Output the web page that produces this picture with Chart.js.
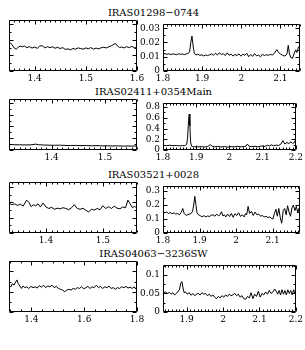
<!DOCTYPE html>
<html>
<head>
<meta charset="utf-8">
<script src="https://cdn.jsdelivr.net/npm/chart.js@4.4.0/dist/chart.umd.min.js"></script>
<style>
body { margin: 0; overflow: hidden; background: #fff; }
#fig { position: relative; width: 305px; height: 350px; }
#fig canvas { position: absolute; }
.title { position: absolute; left: 1px; width: 305px; text-align: center; font: 10px "DejaVu Serif"; line-height: 12px; color: #000; }
</style>
</head>
<body>
<div id="fig"></div>
<script>
// object names, one per row
const names = ['IRAS01298\u22120744', 'IRAS02411+0354Main', 'IRAS03521+0028', 'IRAS04063\u22123236SW'];

// row 1
const lam1a = [1.350,1.353,1.356,1.360,1.364,1.368,1.372,1.376,1.380,1.385,
  1.390,1.395,1.400,1.405,1.410,1.415,1.420,1.425,1.430,1.435,
  1.440,1.445,1.450,1.455,1.460,1.465,1.470,1.475,1.480,1.485,
  1.490,1.495,1.500,1.505,1.510,1.515,1.520,1.525,1.530,1.535,
  1.540,1.545,1.550,1.555,1.558,1.562,1.566,1.570,1.575,1.580,
  1.585,1.590,1.595,1.600];
const flux1a = [0.0172,0.0180,0.0168,0.0148,0.0140,0.0152,0.0160,0.0155,0.0160,0.0150,
  0.0156,0.0147,0.0154,0.0145,0.0160,0.0162,0.0148,0.0156,0.0150,0.0155,
  0.0146,0.0152,0.0144,0.0150,0.0138,0.0142,0.0136,0.0144,0.0140,0.0148,
  0.0144,0.0140,0.0148,0.0143,0.0150,0.0140,0.0147,0.0142,0.0149,0.0152,
  0.0148,0.0155,0.0162,0.0172,0.0176,0.0160,0.0150,0.0154,0.0148,0.0156,
  0.0150,0.0158,0.0148,0.0152];
const lam1b = [1.800,1.805,1.810,1.815,1.820,1.825,1.830,1.835,1.840,1.845,
  1.850,1.855,1.860,1.865,1.868,1.871,1.874,1.877,1.880,1.884,
  1.889,1.894,1.899,1.904,1.909,1.914,1.919,1.924,1.929,1.934,
  1.939,1.944,1.949,1.954,1.959,1.964,1.969,1.974,1.979,1.984,
  1.989,1.994,1.999,2.004,2.009,2.014,2.019,2.024,2.029,2.034,
  2.039,2.044,2.049,2.054,2.059,2.064,2.069,2.074,2.079,2.084,
  2.088,2.091,2.095,2.100,2.105,2.110,2.114,2.117,2.120,2.123,
  2.127,2.131,2.135,2.139,2.142,2.146,2.150];
const flux1b = [0.0118,0.0122,0.0117,0.0121,0.0115,0.0120,0.0118,0.0114,0.0121,0.0117,
  0.0119,0.0115,0.0120,0.0124,0.0135,0.0200,0.0245,0.0175,0.0125,0.0112,
  0.0118,0.0110,0.0113,0.0106,0.0112,0.0108,0.0114,0.0120,0.0110,0.0125,
  0.0112,0.0128,0.0116,0.0122,0.0108,0.0127,0.0110,0.0118,0.0105,0.0116,
  0.0109,0.0120,0.0104,0.0118,0.0110,0.0124,0.0100,0.0116,0.0103,0.0122,
  0.0106,0.0112,0.0100,0.0118,0.0108,0.0114,0.0110,0.0117,0.0112,0.0122,
  0.0140,0.0150,0.0132,0.0118,0.0112,0.0105,0.0110,0.0125,0.0180,0.0120,
  0.0092,0.0090,0.0122,0.0148,0.0130,0.0168,0.0176];

// row 2
const lam2a = [1.320,1.330,1.340,1.350,1.360,1.365,1.370,1.375,1.385,1.395,
  1.405,1.415,1.425,1.435,1.445,1.455,1.465,1.475,1.485,1.495,
  1.505,1.515,1.525,1.535,1.545,1.560];
const flux2a = [0.095,0.090,0.088,0.086,0.088,0.092,0.100,0.090,0.085,0.082,
  0.080,0.082,0.078,0.076,0.078,0.074,0.076,0.072,0.074,0.070,
  0.072,0.068,0.070,0.066,0.068,0.066];
const lam2b = [1.800,1.810,1.820,1.830,1.840,1.850,1.858,1.864,1.868,1.871,
  1.874,1.877,1.879,1.881,1.883,1.886,1.890,1.895,1.905,1.915,
  1.925,1.935,1.942,1.947,1.955,1.965,1.975,1.985,1.995,2.005,
  2.015,2.025,2.035,2.045,2.050,2.054,2.059,2.067,2.077,2.087,
  2.097,2.107,2.115,2.120,2.126,2.133,2.140,2.148,2.155,2.161,
  2.167,2.173,2.179,2.185,2.190,2.195,2.200];
const flux2b = [0.085,0.082,0.088,0.080,0.084,0.078,0.082,0.080,0.090,0.100,
  0.220,0.550,0.670,0.450,0.150,0.070,0.062,0.060,0.058,0.062,
  0.056,0.064,0.100,0.075,0.060,0.066,0.058,0.064,0.055,0.062,
  0.060,0.068,0.058,0.066,0.075,0.110,0.070,0.062,0.070,0.060,
  0.075,0.068,0.090,0.075,0.095,0.080,0.090,0.085,0.110,0.175,
  0.110,0.140,0.120,0.150,0.125,0.135,0.200];

// row 3
const lam3a = [1.335,1.340,1.345,1.350,1.355,1.360,1.366,1.370,1.374,1.378,
  1.382,1.386,1.390,1.395,1.400,1.405,1.410,1.415,1.420,1.425,
  1.430,1.435,1.440,1.445,1.450,1.455,1.460,1.465,1.470,1.475,
  1.480,1.485,1.490,1.495,1.500,1.505,1.510,1.515,1.520,1.525,
  1.530,1.535,1.540,1.544,1.548,1.552,1.556,1.560];
const flux3a = [0.195,0.185,0.190,0.180,0.188,0.176,0.215,0.200,0.172,0.185,
  0.178,0.190,0.170,0.195,0.170,0.160,0.168,0.155,0.162,0.158,
  0.165,0.160,0.152,0.165,0.185,0.160,0.155,0.162,0.148,0.138,
  0.155,0.150,0.160,0.152,0.178,0.160,0.172,0.160,0.175,0.162,
  0.158,0.170,0.165,0.215,0.190,0.165,0.175,0.160];
const lam3b = [1.800,1.805,1.810,1.815,1.820,1.825,1.830,1.835,1.840,1.845,
  1.850,1.854,1.858,1.863,1.868,1.873,1.877,1.881,1.884,1.887,
  1.890,1.893,1.897,1.902,1.907,1.912,1.917,1.922,1.927,1.932,
  1.937,1.942,1.947,1.952,1.956,1.960,1.964,1.968,1.972,1.977,
  1.982,1.987,1.992,1.997,2.002,2.007,2.012,2.017,2.022,2.026,
  2.029,2.033,2.037,2.042,2.047,2.052,2.057,2.062,2.067,2.072,
  2.077,2.082,2.087,2.092,2.097,2.101,2.105,2.109,2.113,2.117,
  2.121,2.125,2.129,2.133,2.137,2.141,2.145,2.149,2.153,2.157,
  2.161,2.165,2.169,2.172,2.175];
const flux3b = [0.150,0.145,0.150,0.140,0.146,0.138,0.144,0.135,0.140,0.130,
  0.148,0.175,0.140,0.126,0.132,0.135,0.140,0.155,0.200,0.262,
  0.205,0.145,0.130,0.124,0.116,0.124,0.115,0.122,0.118,0.126,
  0.130,0.120,0.135,0.122,0.130,0.152,0.122,0.130,0.115,0.135,
  0.118,0.140,0.112,0.138,0.125,0.145,0.118,0.130,0.115,0.140,
  0.130,0.190,0.140,0.155,0.125,0.150,0.130,0.135,0.120,0.125,
  0.115,0.120,0.110,0.115,0.105,0.100,0.140,0.170,0.120,0.175,
  0.110,0.070,0.160,0.175,0.130,0.195,0.150,0.120,0.180,0.200,
  0.160,0.190,0.145,0.175,0.165];

// row 4
const lam4a = [1.315,1.322,1.328,1.334,1.340,1.345,1.350,1.356,1.362,1.368,
  1.375,1.382,1.390,1.398,1.406,1.414,1.422,1.430,1.438,1.446,
  1.454,1.462,1.470,1.478,1.486,1.494,1.502,1.510,1.518,1.526,
  1.534,1.542,1.550,1.558,1.566,1.574,1.582,1.590,1.598,1.606,
  1.614,1.622,1.630,1.638,1.646,1.654,1.662,1.670,1.678,1.686,
  1.694,1.702,1.710,1.718,1.726,1.734,1.742,1.750,1.758,1.766,
  1.774,1.782,1.790,1.796,1.800];
const flux4a = [0.066,0.062,0.070,0.066,0.074,0.079,0.070,0.064,0.058,0.064,
  0.060,0.062,0.058,0.063,0.060,0.062,0.059,0.065,0.061,0.066,
  0.060,0.064,0.062,0.066,0.060,0.063,0.058,0.056,0.054,0.050,
  0.054,0.056,0.054,0.058,0.056,0.060,0.058,0.062,0.057,0.060,
  0.063,0.058,0.062,0.060,0.066,0.060,0.063,0.058,0.062,0.060,
  0.064,0.058,0.060,0.056,0.060,0.058,0.062,0.060,0.063,0.059,
  0.061,0.058,0.062,0.056,0.054];
const lam4b = [1.835,1.842,1.847,1.852,1.857,1.862,1.867,1.872,1.876,1.880,
  1.884,1.887,1.890,1.893,1.897,1.902,1.907,1.912,1.917,1.922,
  1.927,1.932,1.937,1.942,1.947,1.952,1.957,1.962,1.967,1.972,
  1.977,1.982,1.987,1.992,1.997,2.002,2.007,2.012,2.017,2.022,
  2.027,2.032,2.037,2.042,2.047,2.052,2.057,2.062,2.067,2.072,
  2.077,2.082,2.087,2.092,2.097,2.102,2.107,2.112,2.117,2.122,
  2.127,2.132,2.137,2.142,2.146,2.150,2.154,2.158,2.162,2.166,
  2.170,2.174,2.178,2.182,2.186,2.190,2.194,2.198,2.200];
const flux4b = [0.052,0.054,0.050,0.053,0.048,0.052,0.046,0.050,0.055,0.060,
  0.078,0.082,0.065,0.052,0.054,0.048,0.052,0.045,0.050,0.044,
  0.048,0.050,0.046,0.052,0.048,0.050,0.044,0.048,0.042,0.046,
  0.040,0.036,0.042,0.038,0.044,0.040,0.046,0.042,0.048,0.044,
  0.046,0.050,0.044,0.048,0.040,0.044,0.036,0.034,0.042,0.038,
  0.052,0.036,0.048,0.042,0.056,0.040,0.050,0.046,0.054,0.048,
  0.058,0.050,0.054,0.062,0.056,0.048,0.058,0.046,0.060,0.048,
  0.058,0.046,0.060,0.050,0.058,0.046,0.060,0.048,0.055];

// tick labels
const xTicks1a = [1.4, 1.5, 1.6], xTicks1b = [1.8, 1.9, 2, 2.1];
const xTicks2a = [1.4, 1.5], xTicks2b = [1.8, 1.9, 2, 2.1, 2.2];
const xTicks3a = [1.4, 1.5], xTicks3b = [1.8, 1.9, 2, 2.1];
const xTicks4a = [1.4, 1.6, 1.8], xTicks4b = [1.9, 2, 2.1, 2.2];
const yTicks = [[0, 0.01, 0.02, 0.03], [0, 0.2, 0.4, 0.6, 0.8], [0, 0.1, 0.2, 0.3], [0, 0.05, 0.1]];

// axis ranges and tick steps per row
const yMax = [0.0327, 0.868, 0.333, 0.1256];
const yMinor = [0.005, 0.1, 0.05, 0.025];
const rowTop = [20, 99, 182, 261];

const panels = [
  { row: 0, side: 'a', lam: lam1a, flux: flux1a, xMin: 1.35, xMax: 1.6, xTicks: xTicks1a, xMinor: 0.01, xMajor: 0.1 },
  { row: 0, side: 'b', lam: lam1b, flux: flux1b, xMin: 1.8, xMax: 2.15, xTicks: xTicks1b, xMinor: 0.01, xMajor: 0.1 },
  { row: 1, side: 'a', lam: lam2a, flux: flux2a, xMin: 1.32, xMax: 1.56, xTicks: xTicks2a, xMinor: 0.01, xMajor: 0.1 },
  { row: 1, side: 'b', lam: lam2b, flux: flux2b, xMin: 1.8, xMax: 2.2, xTicks: xTicks2b, xMinor: 0.01, xMajor: 0.1 },
  { row: 2, side: 'a', lam: lam3a, flux: flux3a, xMin: 1.335, xMax: 1.56, xTicks: xTicks3a, xMinor: 0.01, xMajor: 0.1 },
  { row: 2, side: 'b', lam: lam3b, flux: flux3b, xMin: 1.8, xMax: 2.175, xTicks: xTicks3b, xMinor: 0.01, xMajor: 0.1 },
  { row: 3, side: 'a', lam: lam4a, flux: flux4a, xMin: 1.315, xMax: 1.8, xTicks: xTicks4a, xMinor: 0.04, xMajor: 0.2 },
  { row: 3, side: 'b', lam: lam4b, flux: flux4b, xMin: 1.835, xMax: 2.2, xTicks: xTicks4b, xMinor: 0.01, xMajor: 0.1 }
];

function isMajor(v, step) {
  return Math.abs(v / step - Math.round(v / step)) < 1e-6;
}

// box with inward ticks on all four sides
const framePlugin = {
  id: 'frame',
  afterDraw(chart, args, o) {
    const ctx = chart.ctx, a = chart.chartArea;
    const x = chart.scales.x, y = chart.scales.y;
    const L = Math.round(a.left) + 0.5, R = Math.round(a.right) - 0.5;
    const T = Math.round(a.top) + 0.5, B = Math.round(a.bottom) - 0.5;
    ctx.save();
    ctx.strokeStyle = '#000';
    ctx.lineWidth = 1;
    ctx.beginPath();
    ctx.rect(L, T, R - L, B - T);
    for (let i = Math.ceil(x.min / o.xMinor - 1e-6); i <= Math.floor(x.max / o.xMinor + 1e-6); i++) {
      const v = i * o.xMinor;
      const px = Math.round(x.getPixelForValue(v)) + 0.5;
      const len = isMajor(v, o.xMajor) ? 4 : 2;
      ctx.moveTo(px, B); ctx.lineTo(px, B - len);
      ctx.moveTo(px, T); ctx.lineTo(px, T + len);
    }
    for (let i = Math.ceil(y.min / o.yMinor - 1e-6); i <= Math.floor(y.max / o.yMinor + 1e-6); i++) {
      const v = i * o.yMinor;
      const py = Math.round(y.getPixelForValue(v)) + 0.5;
      const len = isMajor(v, o.yMajor) ? 4 : 2;
      ctx.moveTo(L, py); ctx.lineTo(L + len, py);
      ctx.moveTo(R, py); ctx.lineTo(R - len, py);
    }
    ctx.stroke();
    ctx.restore();
  }
};

const fig = document.getElementById('fig');

names.forEach(function(name, r) {
  const t = document.createElement('div');
  t.className = 'title';
  t.textContent = name;
  t.style.top = (rowTop[r] - 13) + 'px';
  fig.appendChild(t);
});

panels.forEach(function(p) {
  const left = p.side === 'a' ? 5 : 163;
  const right = p.side === 'a' ? 137 : 300;
  const h = 51;
  const padL = p.side === 'a' ? 4 : 28, padR = p.side === 'a' ? 10 : 5, padT = 4, padB = 16;
  const showY = p.side === 'b';

  const cv = document.createElement('canvas');
  cv.width = right - left + padL + padR;
  cv.height = h + padT + padB;
  cv.style.left = (left - padL) + 'px';
  cv.style.top = (rowTop[p.row] - padT) + 'px';
  fig.appendChild(cv);

  const tickFont = { family: 'DejaVu Serif', size: 9 };

  new Chart(cv, {
    type: 'line',
    data: {
      datasets: [{
        data: p.lam.map(function(l, i) { return { x: l, y: p.flux[i] }; }),
        borderColor: '#000',
        borderWidth: 1,
        pointRadius: 0,
        tension: 0,
        fill: false
      }]
    },
    options: {
      responsive: false,
      animation: false,
      events: [],
      layout: { padding: { left: showY ? 0 : padL, right: padR, top: padT, bottom: 0 } },
      plugins: {
        legend: { display: false },
        tooltip: { enabled: false },
        frame: { xMinor: p.xMinor, xMajor: p.xMajor, yMinor: yMinor[p.row], yMajor: yMinor[p.row] * 2 }
      },
      scales: {
        x: {
          type: 'linear',
          min: p.xMin,
          max: p.xMax,
          grid: { display: false, drawTicks: false },
          border: { display: false },
          afterBuildTicks: function(s) { s.ticks = p.xTicks.map(function(v) { return { value: v }; }); },
          afterFit: function(s) { s.height = padB; },
          ticks: { padding: 2, color: '#000', font: tickFont, maxRotation: 0, autoSkip: false,
            callback: function(v) { return String(v); } }
        },
        y: {
          type: 'linear',
          min: 0,
          max: yMax[p.row],
          display: showY,
          grid: { display: false, drawTicks: false },
          border: { display: false },
          afterBuildTicks: function(s) { s.ticks = yTicks[p.row].map(function(v) { return { value: v }; }); },
          afterFit: function(s) { s.width = padL; },
          ticks: { padding: 3, color: '#000', font: tickFont, autoSkip: false,
            callback: function(v) { return String(v); } }
        }
      }
    },
    plugins: [framePlugin]
  });
});
</script>
</body>
</html>
